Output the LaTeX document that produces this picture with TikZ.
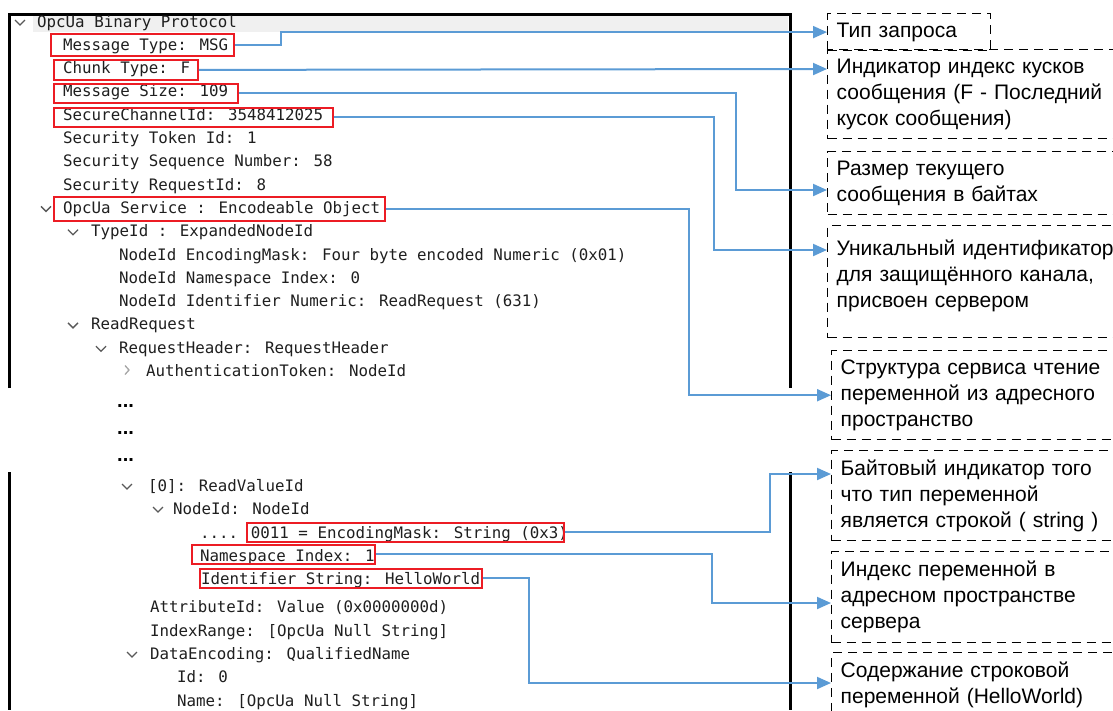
\documentclass[tikz,border=0pt]{standalone}
\usepackage{fontspec}
\usepackage{xcolor}
\usepackage{tikz}
\usetikzlibrary{arrows.meta}
\newfontfamily\monofont{DejaVu Sans Mono}
\newfontfamily\notefont{Liberation Sans}
\definecolor{linkblue}{RGB}{91,155,213}
\definecolor{boxred}{RGB}{236,28,36}
\definecolor{bandgray}{RGB}{240,240,240}
\newcommand{\rowsize}{\monofont\fontsize{15.8}{16}\selectfont}
\newcommand{\notesize}{\notefont\fontsize{21}{26}\selectfont}
\tikzset{
  row/.style={anchor=base west, inner sep=0pt, font=\rowsize, text=black!88},
  gap/.style={anchor=base west, inner sep=0pt, font=\notefont\bfseries\fontsize{20}{20}\selectfont},
  redbox/.style={draw=boxred, line width=1.8pt, anchor=north west, inner sep=0pt},
  note/.style={draw, line width=1.4pt, dash pattern=on 9pt off 6pt, anchor=north west, align=left,
    font=\notesize, inner xsep=9pt, inner ysep=9pt, text width=300pt},
  link/.style={linkblue, line width=2pt, -{Triangle[length=14pt,width=12pt]}},
  chev/.style={black!65, line width=1.3pt},
  frame/.style={line width=3pt}
}

\begin{document}
\begin{tikzpicture}[x=1pt, y=-1pt]
	\useasboundingbox (0,0) rectangle (1113,710);
	\clip (0,0) rectangle (1113,710);

	% screenshot frame
	\fill[bandgray] (33,15) rectangle (788,32);
	\draw[frame] (9,388) -- (9,14) -- (790,14) -- (790,388);
	\draw[frame] (9,472) -- (9,710);
	\draw[frame] (790,472) -- (790,710);

	% upper part of the tree
	\draw[chev] (15,20) -- ++(5,5) -- ++(5,-5);
	\draw[chev] (41,206.4) -- ++(5,5) -- ++(5,-5);
	\draw[chev] (68,229.7) -- ++(5,5) -- ++(5,-5);
	\draw[chev] (68,322.9) -- ++(5,5) -- ++(5,-5);
	\draw[chev] (96,346.2) -- ++(5,5) -- ++(5,-5);
	\draw[chev, black!35] (125,365.5) -- ++(4,4.5) -- ++(-4,4.5);

	\node[row] (proto) at (37,27) {OpcUa Binary Protocol};
	\node[row] (msgtype) at (63,50.3) {Message Type: MSG};
	\node[row] (chunktype) at (63,73.6) {Chunk Type: F};
	\node[row] (msgsize) at (63,96.9) {Message Size: 109};
	\node[row] (chanid) at (63,120.2) {SecureChannelId: 3548412025};
	\node[row] (tokenid) at (63,143.5) {Security Token Id: 1};
	\node[row] (seqnum) at (63,166.8) {Security Sequence Number: 58};
	\node[row] (reqid) at (63,190.1) {Security RequestId: 8};
	\node[row] (service) at (63,213.4) {OpcUa Service : Encodeable Object};
	\node[row] (typeid) at (91,236.7) {TypeId : ExpandedNodeId};
	\node[row] (encmask) at (119,260) {NodeId EncodingMask: Four byte encoded Numeric (0x01)};
	\node[row] (nsindex) at (119,283.3) {NodeId Namespace Index: 0};
	\node[row] (identnum) at (119,306.6) {NodeId Identifier Numeric: ReadRequest (631)};
	\node[row] (readreq) at (91,329.9) {ReadRequest};
	\node[row] (reqhead) at (119,353.2) {RequestHeader: RequestHeader};
	\node[row] (authtoken) at (146,376.5) {AuthenticationToken: NodeId};

	% skipped rows
	\node[gap] (gap1) at (117,407) {...};
	\node[gap] (gap2) at (117,434) {...};
	\node[gap] (gap3) at (117,461) {...};

	% lower part of the tree
	\draw[chev] (122,484) -- ++(5,5) -- ++(5,-5);
	\draw[chev] (153,507) -- ++(5,5) -- ++(5,-5);
	\draw[chev] (127,652) -- ++(5,5) -- ++(5,-5);

	\node[row] (readval) at (148,491) {[0]: ReadValueId};
	\node[row] (nodeid) at (173,514) {NodeId: NodeId};
	\node[row] (strmask) at (200,538) {.... 0011 = EncodingMask: String (0x3)};
	\node[row] (nsone) at (200,561) {Namespace Index: 1};
	\node[row] (identstr) at (201,584) {Identifier String: HelloWorld};
	\node[row] (attrid) at (150,612) {AttributeId: Value (0x0000000d)};
	\node[row] (idxrange) at (150,636) {IndexRange: [OpcUa Null String]};
	\node[row] (dataenc) at (150,659) {DataEncoding: QualifiedName};
	\node[row] (qid) at (177,682) {Id: 0};
	\node[row] (qname) at (177,706) {Name: [OpcUa Null String]};

	% red marks
	\node[redbox, minimum width=183pt, minimum height=22pt] (mtypebox) at (50,33) {};
	\node[redbox, minimum width=144pt, minimum height=20pt] (chunkbox) at (53,59) {};
	\node[redbox, minimum width=184pt, minimum height=19pt] (sizebox) at (53,83) {};
	\node[redbox, minimum width=279pt, minimum height=19pt] (chanbox) at (53,107) {};
	\node[redbox, minimum width=331pt, minimum height=24pt] (servicebox) at (53,196) {};
	\node[redbox, minimum width=317pt, minimum height=19pt] (maskbox) at (246,522) {};
	\node[redbox, minimum width=183pt, minimum height=19pt] (nsbox) at (191,544) {};
	\node[redbox, minimum width=282pt, minimum height=19pt] (identbox) at (199,568) {};

	% notes
	\node[note, text width=145pt, minimum height=29pt] (reqtype) at (827,13) {Тип запроса};
	\node[note, minimum height=89pt] (chunkinfo) at (827,49) {Индикатор индекс кусков\\сообщения (F - Последний\\кусок сообщения)};
	\node[note, minimum height=62pt] (sizeinfo) at (827,151) {Размер текущего\\сообщения в байтах};
	\node[note, minimum height=112pt] (chaninfo) at (827,225) {Уникальный идентификатор\\для защищённого канала,\\присвоен сервером\rule[-16pt]{0pt}{16pt}};
	\node[note, minimum height=89pt] (serviceinfo) at (831,350) {Структура сервиса чтение\\переменной из адресного\\пространство};
	\node[note, minimum height=90pt] (maskinfo) at (831,450) {Байтовый индикатор того\\что тип переменной\\является строкой ( string )};
	\node[note, minimum height=91pt] (nsinfo) at (831,551) {Индекс переменной в\\адресном пространстве\\сервера};
	\node[note] (identinfo) at (831,652) {Содержание строковой\\переменной (HelloWorld)};

	\coordinate (chunkin) at (827,69);
	\coordinate (sizein) at (827,190);
	\coordinate (chanin) at (827,250);
	\coordinate (maskin) at (831,474);
	\coordinate (nsin) at (831,603);
	\coordinate (identin) at (831,683);

	% connectors
	\draw[link] (mtypebox.east) -- ++(46,0) |- (reqtype.west);
	\draw[link] (chunkbox.east) -- (chunkin);
	\draw[link] (sizebox.east) -- ++(497,0) |- (sizein);
	\draw[link] (chanbox.east) -- ++(380,0) |- (chanin);
	\draw[link] (servicebox.east) -- ++(303,0) |- (serviceinfo.west);
	\draw[link] (maskbox.east) -- ++(205,0) |- (maskin);
	\draw[link] (nsbox.east) -- ++(336,0) |- (nsin);
	\draw[link] (identbox.east) -- ++(46,0) |- (identin);
\end{tikzpicture}
\end{document}
